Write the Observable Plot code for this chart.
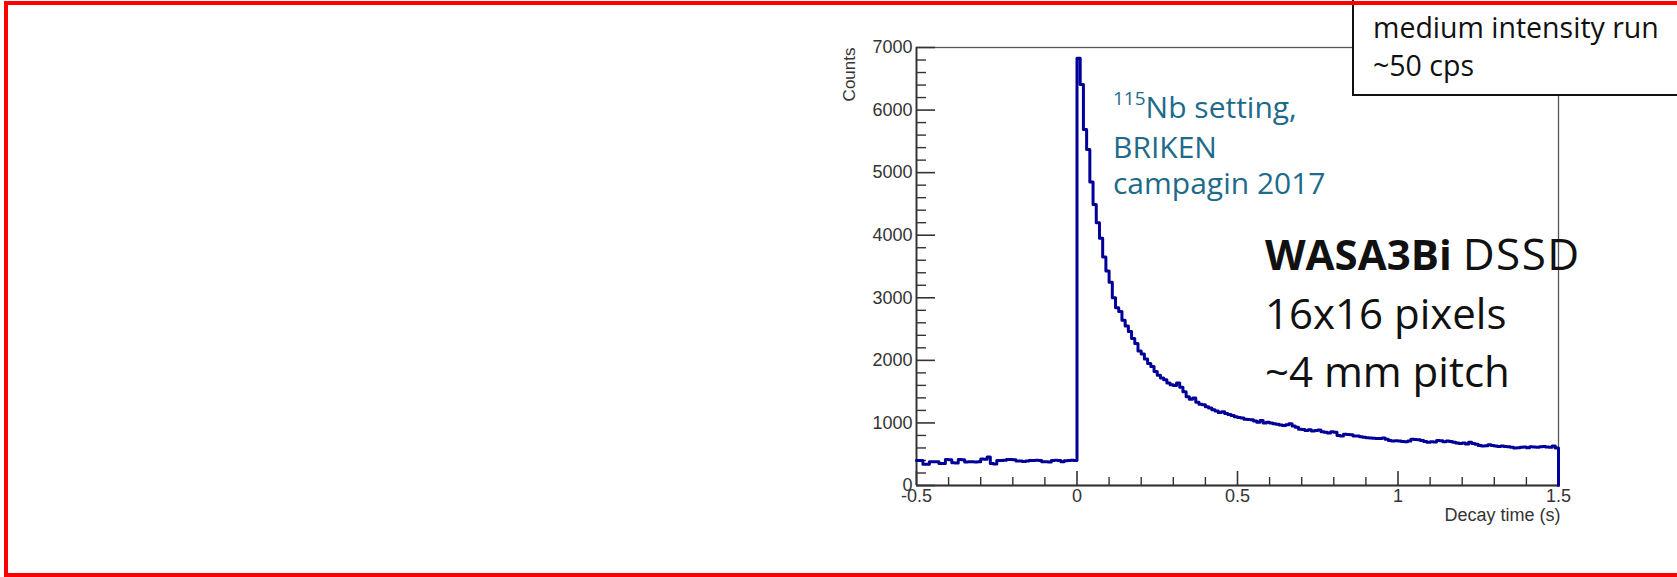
<!DOCTYPE html>
<html>
<head>
<meta charset="utf-8">
<script src="https://cdn.jsdelivr.net/npm/d3@7"></script>
<script src="https://cdn.jsdelivr.net/npm/@observablehq/plot@0.6"></script>
<style>
  html, body { margin: 0; padding: 0; background: #fff; }
  #wrap { position: relative; width: 1677px; height: 577px; overflow: hidden; background: #fff; }
  #chart { position: absolute; left: 0; top: 0; }
  .note { position: absolute; font-family: "Open Sans", "Noto Sans", sans-serif; white-space: nowrap; }
  #teal { left: 1113px; top: 89px; font-size: 30px; line-height: 36px; color: #1d6a8b; }
  #teal .sup { position: relative; top: -13px; font-size: 19px; }
  #wasa { left: 1265px; top: 224px; font-size: 42px; line-height: 58.5px; color: #111; z-index: 3; }
  #wasa .gap { font-size: 44px; letter-spacing: 1.5px; }
  #box { left: 1352px; top: -10px; width: 400px; height: 106px; box-sizing: border-box; border: 2px solid #111; background: #fff; z-index: 5; }
  #boxtext { left: 1373px; top: 8px; font-size: 28.5px; line-height: 38px; color: #111; z-index: 6; }
  #redframe { position: absolute; left: 4px; top: 1px; width: 1700px; height: 576px; box-sizing: border-box; border: 4px solid #ff0000; z-index: 10; }
</style>
</head>
<body>
<div id="wrap">
  <div id="chart"></div>
  <div id="teal" class="note"></div>
  <div id="wasa" class="note"></div>
  <div id="box" class="note"></div>
  <div id="boxtext" class="note"></div>
  <div id="redframe"></div>
</div>
<script>
// ---- Data ----
// Histogram binning: 200 bins of 0.01 s from -0.5 s to 1.5 s
const binLow = -0.5;
const binWidth = 0.01;
// Counts per bin, -0.5 s .. 0 s (50 bins)
const countsBefore = [
  400, 400, 340, 340, 380, 380, 380, 350, 350, 415,
  410, 365, 360, 415, 410, 375, 380, 380, 375, 380,
  425, 420, 455, 350, 345, 400, 400, 405, 415, 415,
  410, 390, 390, 385, 390, 400, 400, 405, 400, 380,
  380, 375, 400, 405, 400, 380, 395, 400, 405, 400
];
// Counts per bin, 0 s .. 1.5 s (150 bins)
const countsAfter = [
  6830, 6410, 5690, 5370, 4850, 4490, 4200, 3950, 3650, 3430,
  3250, 3000, 2840, 2780, 2640, 2550, 2460, 2350, 2270, 2150,
  2100, 2020, 1950, 1900, 1820, 1760, 1720, 1690, 1640, 1610,
  1600, 1640, 1570, 1500, 1420, 1380, 1400, 1330, 1300, 1290,
  1260, 1240, 1210, 1190, 1165, 1180, 1150, 1135, 1120, 1100,
  1085, 1080, 1060, 1055, 1050, 1030, 1010, 1040, 1000, 1010,
  1000, 985, 980, 965, 960, 970, 985, 950, 930, 900,
  895, 880, 890, 870, 880, 885, 860, 850, 840, 860,
  850, 800, 790, 820, 815, 810, 790, 790, 780, 770,
  765, 760, 755, 750, 750, 760, 740, 720, 710, 715,
  710, 705, 700, 710, 740, 735, 730, 720, 705, 690,
  700, 695, 720, 715, 700, 710, 705, 690, 680, 670,
  680, 665, 690, 670, 660, 640, 630, 635, 650, 640,
  630, 625, 630, 625, 620, 610, 600, 605, 610, 615,
  605, 620, 615, 610, 620, 625, 615, 610, 630, 600
];
const xTicks = [-0.5, 0, 0.5, 1, 1.5];
const xTickLabels = ["-0.5", "0", "0.5", "1", "1.5"];
const yTicks = [0, 1000, 2000, 3000, 4000, 5000, 6000, 7000];
const xTitle = "Decay time (s)";
const yTitle = "Counts";
const noteTeal = ["115", "Nb setting,", "BRIKEN", "campagin 2017"];
const noteDetector = ["WASA3Bi", "DSSD", "16x16 pixels", "~4 mm pitch"];
const noteRun = ["medium intensity run", "~50 cps"];

// ---- Build histogram table ----
const counts = countsBefore.concat(countsAfter);
const hist = counts.map((c, i) => ({t: binLow + i * binWidth, c}));
const xEnd = binLow + counts.length * binWidth;
hist.push({t: xEnd, c: counts[counts.length - 1]});
hist.push({t: xEnd, c: 0});

const W = 1677, H = 577;
const mL = 916, mR = 119, mT = 47, mB = 92;
const frameW = W - mL - mR, frameH = H - mT - mB;
const yMinor = d3.range(0, 7001, 200).filter(v => v % 1000 !== 0);
const xMinor = d3.range(-5, 16).map(v => v / 10).filter(v => Math.abs(v * 2 - Math.round(v * 2)) > 1e-9);

const chart = Plot.plot({
  width: W, height: H,
  marginLeft: mL, marginRight: mR, marginTop: mT, marginBottom: mB,
  x: {domain: [-0.5, 1.5], label: null},
  y: {domain: [0, 7000], label: null},
  style: {fontFamily: "'Liberation Sans', Arial, sans-serif", fontSize: "18px", color: "#333", background: "transparent", overflow: "visible"},
  marks: [
    Plot.frame({stroke: "#555", strokeWidth: 1.3}),
    Plot.ruleY([0], {stroke: "#333", strokeWidth: 1.8}),
    Plot.ruleX([-0.5], {stroke: "#333", strokeWidth: 1.8}),
    Plot.tickY(yTicks, {y: d => d, insetRight: frameW - 19, stroke: "#333", strokeWidth: 1.6}),
    Plot.tickY(yMinor, {y: d => d, insetRight: frameW - 10, stroke: "#333", strokeWidth: 1.4}),
    Plot.tickX(xTicks, {x: d => d, insetTop: frameH - 14, stroke: "#333", strokeWidth: 1.6}),
    Plot.tickX(xMinor, {x: d => d, insetTop: frameH - 8, stroke: "#333", strokeWidth: 1.4}),
    Plot.axisY({ticks: yTicks, label: null, tickSize: 0, tickPadding: 4, tickFormat: d => String(d), fill: "#333"}),
    Plot.axisX({ticks: xTicks, label: null, tickSize: 0, tickPadding: 4, tickFormat: d => xTickLabels[xTicks.indexOf(d)], fill: "#333"}),
    Plot.line(hist, {x: "t", y: "c", curve: "step-after", stroke: "#000099", strokeWidth: 3}),
    Plot.text([yTitle], {frameAnchor: "top-left", text: d => d, rotate: -90, textAnchor: "end", lineAnchor: "middle", dx: -67, fontSize: 17, fill: "#333"}),
    Plot.text([xTitle], {frameAnchor: "bottom-right", text: d => d, textAnchor: "end", lineAnchor: "top", dx: 2, dy: 23, fontSize: 18, fill: "#333"})
  ]
});
document.getElementById("chart").appendChild(chart);

document.getElementById("teal").innerHTML =
  `<span class="sup">${noteTeal[0]}</span>${noteTeal[1]}<br>${noteTeal[2]}<br>${noteTeal[3]}`;
document.getElementById("wasa").innerHTML =
  `<b>${noteDetector[0]}</b> <span class="gap">${noteDetector[1]}</span><br>${noteDetector[2]}<br>${noteDetector[3]}`;
document.getElementById("boxtext").innerHTML = `${noteRun[0]}<br>${noteRun[1]}`;
</script>
</body>
</html>
